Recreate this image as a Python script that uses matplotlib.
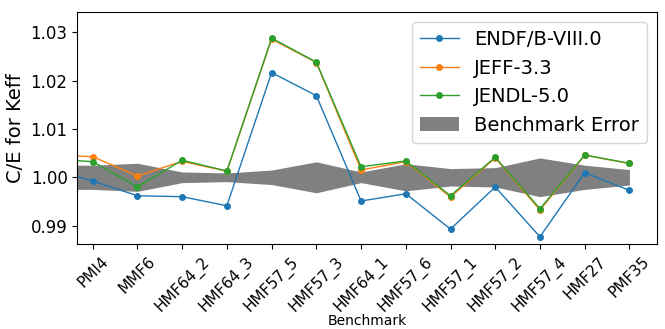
import matplotlib
matplotlib.use('Agg')
import matplotlib.pyplot as plt
import numpy as np

# benchmark names (first entry of data arrays is an unlabelled point left of PMI4)
benchmarks = ['PMI4', 'MMF6', 'HMF64_2', 'HMF64_3', 'HMF57_5', 'HMF57_3',
              'HMF64_1', 'HMF57_6', 'HMF57_1', 'HMF57_2', 'HMF57_4', 'HMF27',
              'PMF35']

endf = [1.00195, 0.99923, 0.99619, 0.99599, 0.99412, 1.02164, 1.01688,
        0.99510, 0.99660, 0.98930, 0.99800, 0.98771, 1.00095, 0.99731]
jeff = [1.00465, 1.00426, 1.00027, 1.00331, 1.00124, 1.02855, 1.02372,
        1.00151, 1.00323, 0.99592, 1.00400, 0.99323, 1.00455, 1.00286]
jendl = [1.00384, 1.00323, 0.99805, 1.00352, 1.00130, 1.02876, 1.02380,
         1.00219, 1.00337, 0.99619, 1.00414, 0.99350, 1.00461, 1.00290]

# benchmark uncertainty (1 sigma)
bench_err = [0.0025, 0.0025, 0.0029, 0.0011, 0.0009, 0.0015, 0.0032,
             0.0011, 0.0028, 0.0018, 0.0020, 0.0040, 0.0025, 0.0016]

x = np.arange(len(endf)) - 1
err = np.array(bench_err)

fig = plt.figure(figsize=(6.65, 3.29), dpi=100)
ax = fig.add_axes([0.1163, 0.2574, 0.8712, 0.7052])

ax.plot(x, endf, marker='o', markersize=4, linewidth=1, label='ENDF/B-VIII.0')
ax.plot(x, jeff, marker='o', markersize=4, linewidth=1, label='JEFF-3.3')
ax.plot(x, jendl, marker='o', markersize=4, linewidth=1, label='JENDL-5.0')
ax.fill_between(x, 1 - err, 1 + err, color='grey', linewidth=0,
                label='Benchmark Error')

ax.set_xlim(-0.344, 12.61)
ax.set_ylim(0.98615, 1.0341)
ax.set_xticks(range(len(benchmarks)))
ax.set_xticklabels(benchmarks, rotation=45, fontsize=11)
ax.tick_params(axis='y', labelsize=12)
ax.set_yticks([0.99, 1.00, 1.01, 1.02, 1.03])
ax.set_yticklabels(['0.99', '1.00', '1.01', '1.02', '1.03'])
ax.set_ylabel('C/E for Keff', fontsize=14)
ax.set_xlabel('Benchmark', fontsize=10)
ax.xaxis.set_label_coords(0.5, -0.30)
ax.legend(loc='upper right', fontsize=14)

fig.savefig('out.png', dpi=100)
